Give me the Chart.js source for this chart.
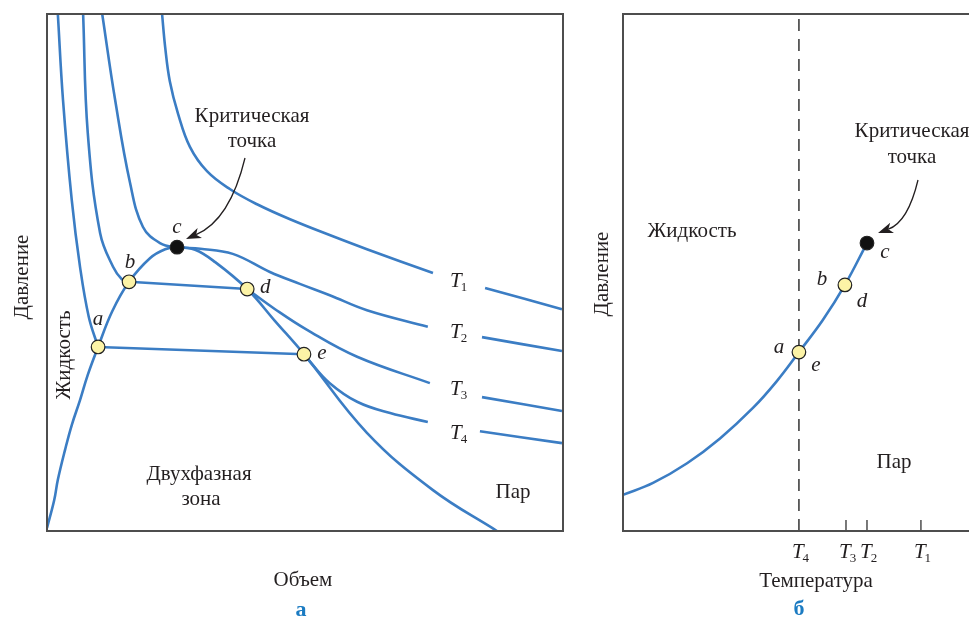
<!DOCTYPE html>
<html>
<head>
<meta charset="utf-8">
<script src="https://cdn.jsdelivr.net/npm/chart.js@4"></script>
<style>
  html, body { margin: 0; padding: 0; background: #fff; overflow: hidden; width: 969px; height: 618px; }
  #left { position: absolute; left: 0; top: 0; }
  #right { position: absolute; left: 580px; top: 0; }
</style>
</head>
<body>
<canvas id="left" width="600" height="618"></canvas>
<canvas id="right" width="420" height="618"></canvas>
<script>
// ---- data (volume / temperature 0..100, pressure 0..100, arbitrary units) ----
const domeCurve = [[0,0.6],[1.4,6.0],[2.1,9.9],[3.5,15.7],[4.8,20.5],[6.4,25.3],[7.9,30.2],[9.9,35.6],
  [12.6,42.4],[15.9,48.2],[20.0,52.8],[22.9,54.5],[25.2,54.9],[28.7,54.4],[32.6,52.0],[38.8,46.8],
  [44.2,40.6],[49.8,34.2],[62.0,19.0],[74.8,7.9],[87.2,0]];

const t1Curve = [[22.3,100],[22.9,93.6],[23.8,87.0],[25.4,80.7],[27.7,74.3],[31.0,69.6],[35.5,66.1],
  [40.7,63.2],[47.1,60.3],[55.4,57.0],[62.0,54.5],[74.8,49.9],[80,null],[84.9,47.0],[99.8,42.9]];
const t2Curve = [[10.7,100],[13.2,83.4],[16.1,67.3],[18.6,58.8],[21.9,55.7],[25.2,54.9],[29.7,54.6],
  [36.0,53.6],[43.2,50.1],[49.0,47.8],[54.8,45.6],[62.0,42.7],[73.8,39.5],[80,null],[84.3,37.5],[99.8,34.8]];
const t3Liquid = [[7.0,100],[7.9,77.0],[10.3,57.6],[12.8,51.1],[14.5,48.7],[15.9,48.2]];
const t3Flat = [[15.9,48.2],[38.8,46.8]];
const t3Vapor = [[38.8,46.8],[44.2,42.9],[50.4,38.9],[60.1,33.7],[74.2,28.6],[80,null],[84.3,25.9],[99.8,23.2]];
const t4Liquid = [[2.1,100],[3.1,83.4],[4.8,64.0],[6.4,51.1],[8.1,41.4],[9.9,35.6]];
const t4Flat = [[9.9,35.6],[49.8,34.2]];
const t4Vapor = [[49.8,34.2],[51.0,32.7],[54.8,28.6],[60.1,25.0],[66.5,22.8],[73.8,21.1],[80,null],[83.9,19.3],[99.8,17.0]];

const stateNames = ['a', 'b', 'c', 'd', 'e'];
const statePoints = [[9.9,35.6],[15.9,48.2],[25.2,54.9],[38.8,46.8],[49.8,34.2]];

const vaporPressure = [[0,7.0],[8.3,9.3],[17.7,13.1],[26.8,17.9],[35.9,23.8],[42.5,29.0],[48.6,34.6],
  [55.2,40.8],[61.3,47.6],[67.4,55.7]];
const ptPoints = [[48.6,34.6],[61.3,47.6],[67.4,55.7]];
const tempTicks = [48.6, 61.6, 67.4, 82.3];
const tempTickNames = ['4', '3', '2', '1'];

// ---- styling helpers ----
const BLUE = '#3b7dc4';
const INK = '#231f20';
const YELLOW = '#fcf3a6';
const SERIF = '"Liberation Serif", "DejaVu Serif", serif';
const FS = 21;

function curve(points, extra) {
  return Object.assign({
    data: points, borderColor: BLUE, borderWidth: 2.6, pointRadius: 0,
    tension: 0.4, fill: false, spanGaps: false
  }, extra || {});
}

function markers(points, colors) {
  return {
    data: points, showLine: false, pointRadius: 6.8,
    pointBackgroundColor: colors, pointBorderColor: '#222', pointBorderWidth: 1.2
  };
}

function text(ctx, s, x, y, size, opt) {
  opt = opt || {};
  ctx.save();
  ctx.font = (opt.style || '') + ' ' + size + 'px ' + SERIF;
  ctx.fillStyle = opt.color || INK;
  ctx.textAlign = opt.align || 'center';
  ctx.textBaseline = 'alphabetic';
  ctx.translate(x, y);
  if (opt.rotate) ctx.rotate(opt.rotate);
  ctx.fillText(s, 0, 0);
  ctx.restore();
}

function tLabel(ctx, n, x, y) {
  text(ctx, 'T', x, y, FS, { style: 'italic', align: 'left' });
  ctx.save();
  ctx.font = 'italic ' + FS + 'px ' + SERIF;
  const w = ctx.measureText('T').width;
  ctx.restore();
  text(ctx, n, x + w - 1, y + 4, 13, { align: 'left' });
}

function arrow(ctx, x0, y0, cx, cy, x1, y1) {
  const ang = Math.atan2(y1 - cy, x1 - cx);
  const len = 15, half = 5.5;
  const c = Math.cos(ang), s = Math.sin(ang);
  const bx = x1 - len * c, by = y1 - len * s;
  ctx.save();
  ctx.strokeStyle = INK; ctx.fillStyle = INK; ctx.lineWidth = 1.3;
  ctx.beginPath(); ctx.moveTo(x0, y0); ctx.quadraticCurveTo(cx, cy, bx + 4 * c, by + 4 * s); ctx.stroke();
  ctx.beginPath();
  ctx.moveTo(x1, y1);
  ctx.lineTo(bx - half * s, by + half * c);
  ctx.lineTo(bx + 4 * c, by + 4 * s);
  ctx.lineTo(bx + half * s, by - half * c);
  ctx.closePath(); ctx.fill();
  ctx.restore();
}

function frame(ctx, a) {
  ctx.save();
  ctx.strokeStyle = '#4d4d4d'; ctx.lineWidth = 2;
  ctx.strokeRect(a.left, a.top, a.right - a.left, a.bottom - a.top);
  ctx.restore();
}

const baseOptions = (padding) => ({
  responsive: false,
  animation: false,
  layout: { padding },
  scales: {
    x: { type: 'linear', display: false, min: 0, max: 100 },
    y: { type: 'linear', display: false, min: 0, max: 100 }
  },
  plugins: { legend: { display: false }, tooltip: { enabled: false } }
});

// ---- left: pressure vs volume ----
const leftNameOffsets = [[0,-22],[1,-14],[0,-14],[18,4],[18,5]];

new Chart(document.getElementById('left'), {
  type: 'line',
  data: {
    datasets: [
      markers(statePoints, [YELLOW, YELLOW, '#111', YELLOW, YELLOW]),
      curve(domeCurve), curve(t1Curve), curve(t2Curve),
      curve(t3Liquid), curve(t3Flat, { tension: 0 }), curve(t3Vapor),
      curve(t4Liquid), curve(t4Flat, { tension: 0 }), curve(t4Vapor)
    ]
  },
  options: baseOptions({ left: 47, top: 14, right: 37, bottom: 87 }),
  plugins: [{
    id: 'pvDecor',
    afterDraw(chart) {
      const ctx = chart.ctx, sx = chart.scales.x, sy = chart.scales.y;
      frame(ctx, chart.chartArea);
      stateNames.forEach((n, i) => {
        const p = statePoints[i], o = leftNameOffsets[i];
        text(ctx, n, sx.getPixelForValue(p[0]) + o[0], sy.getPixelForValue(p[1]) + o[1], FS, { style: 'italic' });
      });
      tLabel(ctx, '1', 450, 287);
      tLabel(ctx, '2', 450, 338);
      tLabel(ctx, '3', 450, 395);
      tLabel(ctx, '4', 450, 439);
      text(ctx, 'Критическая', 252, 122, FS);
      text(ctx, 'точка', 252, 147, FS);
      arrow(ctx, 245, 158, 230, 220, 186, 239);
      text(ctx, 'Двухфазная', 199, 480, FS);
      text(ctx, 'зона', 201, 505, FS);
      text(ctx, 'Пар', 513, 498, FS);
      text(ctx, 'Жидкость', 70, 355, FS, { rotate: -Math.PI / 2 });
      text(ctx, 'Давление', 28, 277, FS, { rotate: -Math.PI / 2 });
      text(ctx, 'Объем', 303, 586, FS);
      text(ctx, 'а', 301, 616, 22, { style: 'bold', color: '#1b7bc2' });
    }
  }]
});

// ---- right: pressure vs temperature ----
const rightNames = [['a', -20, 1], ['e', 17, 19], ['b', -23, 0], ['d', 17, 22], ['c', 18, 15]];
const rightNameAt = [0, 0, 1, 1, 2];

new Chart(document.getElementById('right'), {
  type: 'line',
  data: {
    datasets: [
      markers(ptPoints, [YELLOW, YELLOW, '#111']),
      curve(vaporPressure),
      curve([[tempTicks[0], 0], [tempTicks[0], 100]], { borderColor: '#333', borderWidth: 1.5, borderDash: [12, 8], tension: 0 })
    ]
  },
  options: baseOptions({ left: 43, top: 14, right: 15, bottom: 87 }),
  plugins: [{
    id: 'ptDecor',
    afterDraw(chart) {
      const ctx = chart.ctx, a = chart.chartArea, sx = chart.scales.x, sy = chart.scales.y;
      frame(ctx, a);
      ctx.save();
      ctx.strokeStyle = '#4d4d4d'; ctx.lineWidth = 1.5;
      tempTicks.forEach((t, i) => {
        const px = sx.getPixelForValue(t);
        if (i > 0) { ctx.beginPath(); ctx.moveTo(px, a.bottom); ctx.lineTo(px, a.bottom - 11); ctx.stroke(); }
        tLabel(ctx, tempTickNames[i], px - 7, a.bottom + 27);
      });
      ctx.restore();
      rightNames.forEach((r, i) => {
        const p = ptPoints[rightNameAt[i]];
        text(ctx, r[0], sx.getPixelForValue(p[0]) + r[1], sy.getPixelForValue(p[1]) + r[2], FS, { style: 'italic' });
      });
      text(ctx, 'Критическая', 332, 137, FS);
      text(ctx, 'точка', 332, 163, FS);
      arrow(ctx, 338, 180, 328, 222, 298, 233);
      text(ctx, 'Жидкость', 112, 237, FS);
      text(ctx, 'Пар', 314, 468, FS);
      text(ctx, 'Давление', 28, 274, FS, { rotate: -Math.PI / 2 });
      text(ctx, 'Температура', 236, 587, FS);
      text(ctx, 'б', 219, 615, 22, { style: 'bold', color: '#1b7bc2' });
    }
  }]
});
</script>
</body>
</html>
